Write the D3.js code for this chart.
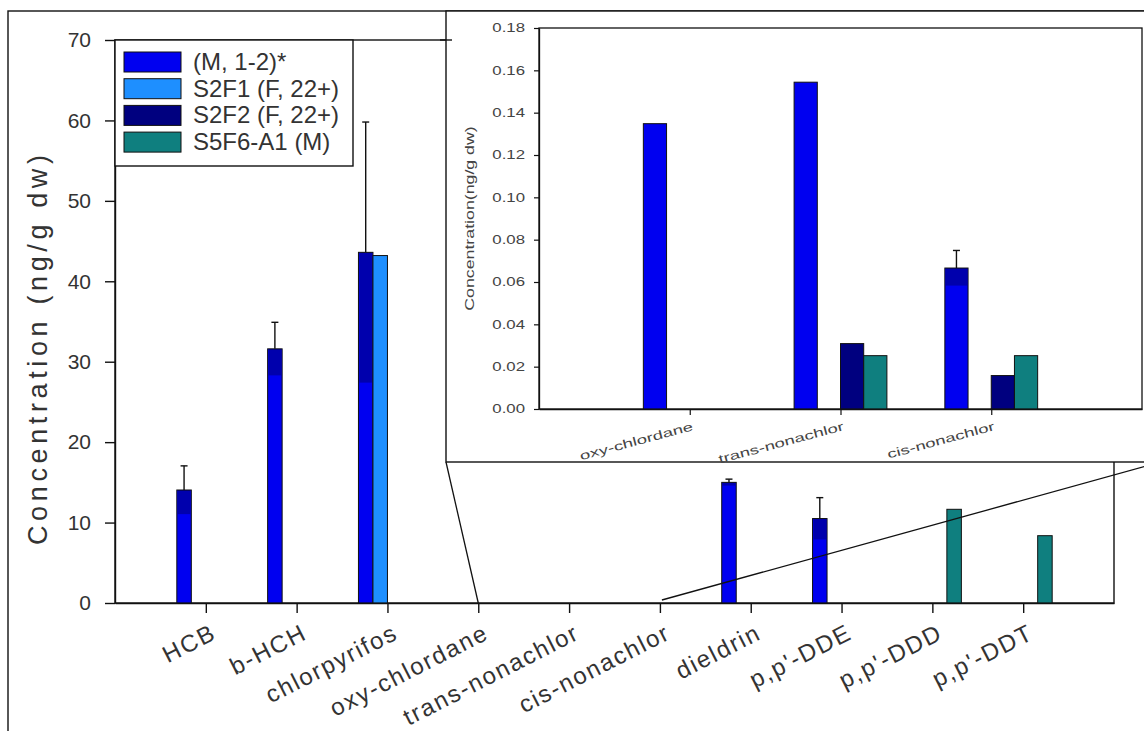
<!DOCTYPE html>
<html><head><meta charset="utf-8">
<script src="https://cdn.jsdelivr.net/npm/d3@7"></script>
<style>html,body{margin:0;padding:0;background:#fff}svg{display:block}text{font-family:"Liberation Sans",Arial,sans-serif}</style>
</head><body><svg id="c" width="1144" height="731"></svg>
<script>
// ---------- data ----------
const categories = ["HCB","b-HCH","chlorpyrifos","oxy-chlordane","trans-nonachlor","cis-nonachlor","dieldrin","p,p'-DDE","p,p'-DDD","p,p'-DDT"];
const seriesNames = ["(M, 1-2)*","S2F1 (F, 22+)","S2F2 (F, 22+)","S5F6-A1 (M)"];
const seriesColors = ["#0000f0","#1e8fff","#00007f","#0f7f7f"];
const m12    = [14.05,31.6,43.6,null,null,null,15.0,10.5,null,null];
const m12Err = [3.0,3.3,16.2,null,null,null,0.4,2.6,null,null];
const s2f1   = [null,null,43.2,null,null,null,null,null,null,null];
const s2f2   = [null,null,null,null,null,null,null,null,null,null];
const s5f6   = [null,null,null,null,null,null,null,null,11.65,8.37];
const yTicks = [0,10,20,30,40,50,60,70];

const insetCategories = ["oxy-chlordane","trans-nonachlor","cis-nonachlor"];
const insetM12    = [0.1348,0.1544,0.0666];
const insetM12Err = [null,null,0.0083];
const insetS2F1   = [null,null,null];
const insetS2F2   = [null,0.0309,0.0158];
const insetS5F6   = [null,0.0252,0.0252];
const insetYTicks = [0,0.02,0.04,0.06,0.08,0.10,0.12,0.14,0.16,0.18];

// ---------- setup ----------
const svg = d3.select("#c");
const main = {l:115, r:1114, t:40, b:603};
const x = d3.scalePoint().domain(categories).range([main.l, main.r]).padding(1);
const y = d3.scaleLinear().domain([0,70]).range([main.b, main.t]);
const bw = 14.5;
const mainSeries = [m12, s2f1, s2f2, s5f6];
const mainErr = [m12Err, null, null, null];

// outer frame
svg.append("rect").attr("x",8).attr("y",11).attr("width",1300).attr("height",900)
  .attr("fill","none").attr("stroke","#111").attr("stroke-width",1.4);

// main frame
svg.append("rect").attr("x",main.l).attr("y",main.t).attr("width",main.r-main.l).attr("height",main.b-main.t)
  .attr("fill","none").attr("stroke","#111").attr("stroke-width",1.4);

function drawBars(g, xs, ys, series, errs, w, colors){
  series.forEach((vals, si) => {
    vals.forEach((v, ci) => {
      if (v == null) return;
      const cx = xs(xs.domain()[ci]) + (si-2)*w;
      g.append("rect").attr("x",cx).attr("y",ys(v)).attr("width",w).attr("height",ys(0)-ys(v))
        .attr("fill",colors[si]).attr("stroke","#111").attr("stroke-width",1);
      const e = errs[si] ? errs[si][ci] : null;
      if (e != null) {
        const mx = cx + w/2;
        g.append("rect").attr("x",cx+1).attr("y",ys(v)).attr("width",w-2).attr("height",ys(v-e)-ys(v))
          .attr("fill","#000").attr("opacity",0.28);
        g.append("line").attr("x1",mx).attr("x2",mx).attr("y1",ys(v)).attr("y2",ys(v+e))
          .attr("stroke","#111").attr("stroke-width",1.4);
        g.append("line").attr("x1",mx-3.5).attr("x2",mx+3.5).attr("y1",ys(v+e)).attr("y2",ys(v+e))
          .attr("stroke","#111").attr("stroke-width",1.4);
      }
    });
  });
}
const gMain = svg.append("g");
drawBars(gMain, x, y, mainSeries, mainErr, bw, seriesColors);

// axes
const yAxis = svg.append("g").attr("transform",`translate(${main.l},0)`)
  .call(d3.axisLeft(y).tickValues(yTicks).tickSize(10).tickPadding(14).tickSizeOuter(0));
yAxis.select(".domain").attr("stroke","#111").attr("stroke-width",1.4);
yAxis.selectAll(".tick line").attr("stroke","#111").attr("stroke-width",1.4);
yAxis.selectAll("text").attr("font-size",21).attr("fill","#333").style("font-family","'Liberation Sans',Arial,sans-serif");

const xAxis = svg.append("g").attr("transform",`translate(0,${main.b})`)
  .call(d3.axisBottom(x).tickSize(10).tickSizeOuter(0).tickFormat(""));
xAxis.select(".domain").attr("stroke","#111").attr("stroke-width",1.4);
xAxis.selectAll(".tick line").attr("stroke","#111").attr("stroke-width",1.4);
svg.append("g").selectAll("text").data(categories).join("text")
  .attr("transform", d => `translate(${x(d)+12},${main.b+35}) rotate(-27)`)
  .attr("text-anchor","end").attr("font-size",24).attr("letter-spacing",1.8).attr("fill","#333").text(d => d);

// y label
svg.append("text").attr("transform","translate(47,350) rotate(-90)")
  .attr("text-anchor","middle").attr("font-size",27).attr("fill","#333")
  .attr("textLength",390).attr("lengthAdjust","spacing")
  .text("Concentration (ng/g dw)");

// legend
const lg = svg.append("g");
lg.append("rect").attr("x",main.l).attr("y",main.t).attr("width",238).attr("height",126)
  .attr("fill","#fff").attr("stroke","#111").attr("stroke-width",1.4);
seriesNames.forEach((n,i) => {
  const ty = 52 + i*26.7;
  lg.append("rect").attr("x",124).attr("y",ty).attr("width",57).attr("height",20)
    .attr("fill",seriesColors[i]).attr("stroke","#111").attr("stroke-width",1);
  lg.append("text").attr("x",193).attr("y",ty+18).attr("font-size",24).attr("fill","#333").text(n);
});

// ---------- inset ----------
const box = {l:446, t:11, r:1161, b:462};
const ins = {l:539, r:1142, t:28, b:409};
const ix = d3.scalePoint().domain(insetCategories).range([ins.l, ins.r]).padding(1);
const iy = d3.scaleLinear().domain([0,0.18]).range([ins.b, ins.t]);

svg.append("line").attr("x1",box.l).attr("y1",box.b).attr("x2",x("oxy-chlordane")).attr("y2",y(0))
  .attr("stroke","#111").attr("stroke-width",1.3);
svg.append("line").attr("x1",x("cis-nonachlor")+2).attr("y1",y(0)-3).attr("x2",box.r).attr("y2",box.b)
  .attr("stroke","#111").attr("stroke-width",1.3);

svg.append("rect").attr("x",box.l).attr("y",box.t).attr("width",box.r-box.l).attr("height",box.b-box.t)
  .attr("fill","#fff").attr("stroke","#111").attr("stroke-width",1.4);
svg.append("line").attr("x1",box.l-6).attr("x2",box.l+6).attr("y1",main.t).attr("y2",main.t)
  .attr("stroke","#111").attr("stroke-width",1.4);

svg.append("rect").attr("x",ins.l).attr("y",ins.t).attr("width",ins.r-ins.l).attr("height",ins.b-ins.t)
  .attr("fill","none").attr("stroke","#111").attr("stroke-width",1.3);

const gIns = svg.append("g");
drawBars(gIns, ix, iy, [insetM12, insetS2F1, insetS2F2, insetS5F6], [insetM12Err,null,null,null], 23.2, seriesColors);

const iyAxis = svg.append("g").attr("transform",`translate(${ins.l},0)`)
  .call(d3.axisLeft(iy).tickValues(insetYTicks).tickSize(5).tickSizeOuter(0).tickFormat(d3.format(".2f")));
iyAxis.select(".domain").attr("stroke","#111").attr("stroke-width",1.3);
iyAxis.selectAll(".tick line").attr("stroke","#111").attr("stroke-width",1.2);
iyAxis.selectAll("text").attr("x",0).attr("font-size",12).attr("fill","#444")
  .style("font-family","'Liberation Sans',Arial,sans-serif")
  .attr("transform","translate(-14,0) scale(1.4,1)");

const ixAxis = svg.append("g").attr("transform",`translate(0,${ins.b})`)
  .call(d3.axisBottom(ix).tickSize(6).tickSizeOuter(0).tickFormat(""));
ixAxis.select(".domain").attr("stroke","#111").attr("stroke-width",1.3);
ixAxis.selectAll(".tick line").attr("stroke","#111").attr("stroke-width",1.2);
svg.append("g").selectAll("text").data(insetCategories).join("text")
  .attr("transform", d => `translate(${ix(d)+4},${ins.b+21}) rotate(-15) scale(1.55,1)`)
  .attr("text-anchor","end").attr("font-size",12).attr("fill","#444").text(d => d);

svg.append("text").attr("transform",`translate(474,${(ins.t+ins.b)/2}) rotate(-90) scale(1.42,1)`)
  .attr("text-anchor","middle").attr("font-size",12.5).attr("fill","#444")
  .text("Concentration(ng/g dw)");
</script></body></html>
